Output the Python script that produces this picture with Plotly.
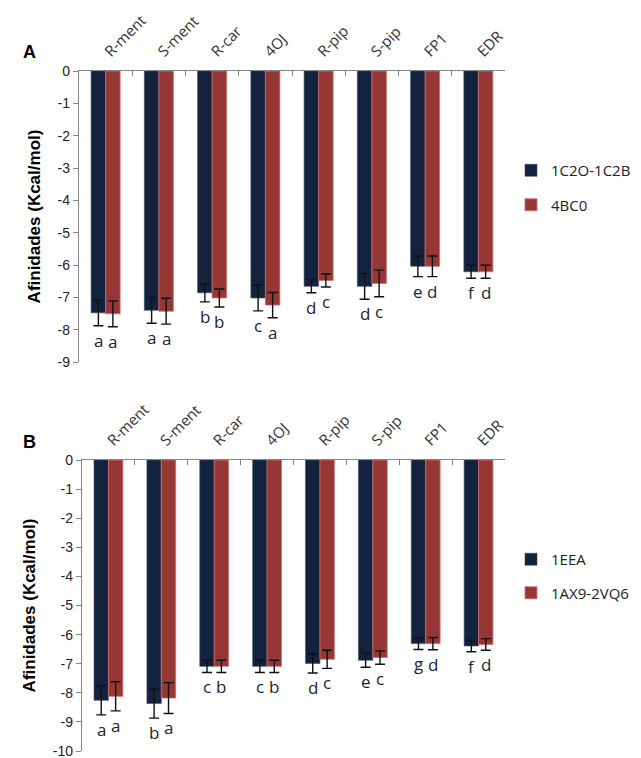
import plotly.graph_objects as go

categories = ["R-ment", "S-ment", "R-car", "4OJ", "R-pip", "S-pip", "FP1", "EDR"]

# Panel A
a_series1_name = "1C2O-1C2B"
a_series2_name = "4BC0"
a_s1 = [-7.48, -7.40, -6.86, -7.02, -6.66, -6.66, -6.04, -6.21]
a_s1_err = [0.40, 0.40, 0.28, 0.40, 0.20, 0.40, 0.32, 0.20]
a_s2 = [-7.51, -7.43, -7.02, -7.24, -6.48, -6.57, -6.04, -6.21]
a_s2_err = [0.40, 0.40, 0.28, 0.39, 0.20, 0.41, 0.32, 0.20]
a_s1_letters = ["a", "a", "b", "c", "d", "d", "e", "f"]
a_s2_letters = ["a", "a", "b", "a", "c", "c", "d", "d"]
a_ytickvals = [0, -1, -2, -3, -4, -5, -6, -7, -8, -9]
a_yticktext = ["0", "-1", "-2", "-3", "-4", "-5", "-6", "-7", "-8", "-9"]

# Panel B
b_series1_name = "1EEA"
b_series2_name = "1AX9-2VQ6"
b_s1 = [-8.26, -8.37, -7.09, -7.09, -6.99, -6.88, -6.31, -6.39]
b_s1_err = [0.50, 0.50, 0.21, 0.21, 0.33, 0.24, 0.20, 0.20]
b_s2 = [-8.12, -8.18, -7.09, -7.09, -6.85, -6.79, -6.31, -6.34]
b_s2_err = [0.50, 0.53, 0.21, 0.21, 0.31, 0.23, 0.21, 0.20]
b_s1_letters = ["a", "b", "c", "c", "d", "e", "g", "f"]
b_s2_letters = ["a", "a", "b", "b", "c", "c", "d", "d"]
b_ytickvals = [0, -1, -2, -3, -4, -5, -6, -7, -8, -9, -10]
b_yticktext = ["0", "-1", "-2", "-3", "-4", "-5", "-6", "-7", "-8", "-9", "-10"]

NAVY = "#13233d"
RED = "#953735"
# page body has an 8px default margin; compensate so the figure fills the window
OX, OY = 8, 8
W, H = 641 - OX, 758 - OY

def px(x):
    return (x - OX) / W

def py(y):
    return 1 - (y - OY) / H

fig = go.Figure()

def add_panel(xa, ya, s1, e1, s2, e2, n1, n2, legend):
    fig.add_trace(go.Bar(x=categories, y=s1, name=n1, xaxis=xa, yaxis=ya,
                         marker=dict(color=NAVY, line=dict(color="#3a4a66", width=0.6)),
                         error_y=dict(type="data", array=e1, color="#111", thickness=1.4, width=5),
                         legend=legend, legendgroup=n1))
    fig.add_trace(go.Bar(x=categories, y=s2, name=n2, xaxis=xa, yaxis=ya,
                         marker=dict(color=RED, line=dict(color="#d07070", width=0.8)),
                         error_y=dict(type="data", array=e2, color="#111", thickness=1.4, width=5),
                         legend=legend, legendgroup=n2))

add_panel("x", "y", a_s1, a_s1_err, a_s2, a_s2_err, a_series1_name, a_series2_name, "legend")
add_panel("x2", "y2", b_s1, b_s1_err, b_s2, b_s2_err, b_series1_name, b_series2_name, "legend2")

annotations = []
def add_letters(xref, yref, vals, errs, letters, shift):
    for c, v, e, l in zip(categories, vals, errs, letters):
        annotations.append(dict(x=c, y=v - e, xref=xref, yref=yref, text=l, showarrow=False,
                                xshift=shift, yanchor="top", yshift=-1,
                                font=dict(family="Open Sans, Liberation Sans", size=17, color="#1a1f33")))

add_letters("x", "y", a_s1, a_s1_err, a_s1_letters, -7.3)
add_letters("x", "y", a_s2, a_s2_err, a_s2_letters, 7.3)
add_letters("x2", "y2", b_s1, b_s1_err, b_s1_letters, -7.3)
add_letters("x2", "y2", b_s2, b_s2_err, b_s2_letters, 7.3)

for txt, yy in (("A", py(52)), ("B", py(442))):
    annotations.append(dict(x=px(29), y=yy, xref="paper", yref="paper", text="<b>%s</b>" % txt,
                            showarrow=False, xanchor="center", yanchor="middle",
                            font=dict(family="Liberation Sans, Arial", size=18, color="#000")))

xcommon = dict(type="category", side="top", showline=True, linecolor="#868686", linewidth=1.3,
               ticks="inside", ticklen=5, tickcolor="#868686", tickson="boundaries",
               tickangle=-45, showgrid=False, zeroline=False, range=[-0.5, 7.5],
               automargin=False, ticklabelstandoff=4, ticklabeloverflow="allow",
               tickfont=dict(family="Open Sans, Liberation Sans", size=15, color="#333"))
ycommon = dict(showline=True, linecolor="#868686", linewidth=1.3, ticks="outside", ticklen=5,
               tickcolor="#868686", showgrid=False, zeroline=False, automargin=False,
               tickmode="array", ticklabeloverflow="allow",
               tickfont=dict(family="Liberation Sans, Arial", size=14, color="#222"),
               title=dict(text="<b>Afinidades (Kcal/mol)</b>", standoff=12,
                          font=dict(family="Liberation Sans, Arial", size=17, color="#000")))

legfont = dict(family="Open Sans, Liberation Sans", size=15, color="#222")
fig.update_layout(
    width=W, height=H, margin=dict(l=0, r=0, t=0, b=0, autoexpand=False),
    paper_bgcolor="white", plot_bgcolor="white",
    barmode="group", bargap=0.455, bargroupgap=0,
    showlegend=True,
    xaxis=dict(xcommon, domain=[px(79), px(505)], anchor="y"),
    yaxis=dict(ycommon, domain=[py(362), py(71)], range=[-9, 0], anchor="x",
               tickvals=a_ytickvals, ticktext=a_yticktext),
    xaxis2=dict(xcommon, domain=[px(82), px(505)], anchor="y2"),
    yaxis2=dict(ycommon, domain=[py(751), py(460)], range=[-10, 0], anchor="x2",
                tickvals=b_ytickvals, ticktext=b_yticktext),
    legend=dict(x=px(511), y=py(154), xanchor="left", yanchor="top", bgcolor="rgba(0,0,0,0)",
                font=legfont, tracegroupgap=12, itemwidth=30),
    legend2=dict(x=px(511), y=py(543), xanchor="left", yanchor="top", bgcolor="rgba(0,0,0,0)",
                 font=legfont, tracegroupgap=11, itemwidth=30),
    annotations=annotations,
)

fig.write_html("out.html")
